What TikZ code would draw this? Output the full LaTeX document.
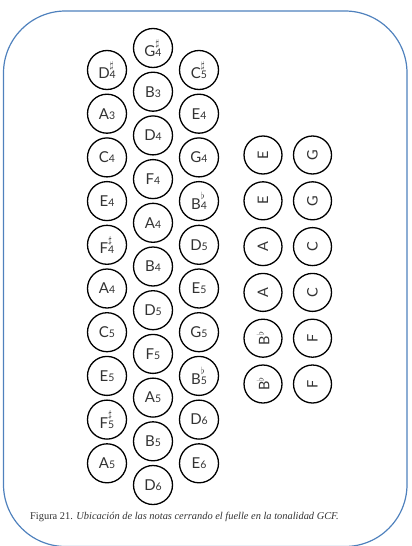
\documentclass[tikz,border=0pt]{standalone}
\usepackage{graphicx}
\usepackage{fontspec}
\setmainfont{Liberation Serif}
\newfontfamily\keyfont{Lato}
\usepackage{tikz}
\usetikzlibrary{positioning}
\definecolor{frameblue}{HTML}{4F81BD}
\definecolor{inkgray}{HTML}{333333}

% nota: letra, alteracion (sobre el numero), octava
\newcommand{\nota}[3]{#1\makebox[0pt][l]{\raisebox{1.35ex}{\fontsize{10}{10}\selectfont$#2$}}{\fontsize{10.5}{10.5}\selectfont #3}}
\newcommand{\bajo}[1]{\rotatebox{90}{#1}}

\begin{document}
\begin{tikzpicture}[
    x=1pt, y=-1pt,
    keyTreble/.style={circle, draw=black, line width=1.3pt, minimum size=39pt, inner sep=0pt, font=\keyfont\fontsize{15}{15}\selectfont, text=inkgray},
    keyBass/.style={circle, draw=black, line width=1.3pt, minimum size=38pt, inner sep=0pt, font=\keyfont\fontsize{14.5}{14.5}\selectfont, text=inkgray},
    colTreble/.style={on grid, below=43.7pt of #1},
    colBass/.style={on grid, below=45.8pt of #1}
]
    \useasboundingbox (0,0) rectangle (412,546);
    \draw[frameblue, line width=1.2pt, rounded corners=62pt] (3.5,11) rectangle (407,546.5);

    % Hilera izquierda
    \node[keyTreble] (l1) at (107,70) {\nota{D}{\sharp}{4}};
    \node[keyTreble, colTreble=l1] (l2) {\nota{A}{}{3}};
    \node[keyTreble, colTreble=l2] (l3) {\nota{C}{}{4}};
    \node[keyTreble, colTreble=l3] (l4) {\nota{E}{}{4}};
    \node[keyTreble, colTreble=l4] (l5) {\nota{F}{\sharp}{4}};
    \node[keyTreble, colTreble=l5] (l6) {\nota{A}{}{4}};
    \node[keyTreble, colTreble=l6] (l7) {\nota{C}{}{5}};
    \node[keyTreble, colTreble=l7] (l8) {\nota{E}{}{5}};
    \node[keyTreble, colTreble=l8] (l9) {\nota{F}{\sharp}{5}};
    \node[keyTreble, colTreble=l9] (l10) {\nota{A}{}{5}};

    % Hilera central
    \node[keyTreble] (m1) at (153,48) {\nota{G}{\sharp}{4}};
    \node[keyTreble, colTreble=m1] (m2) {\nota{B}{}{3}};
    \node[keyTreble, colTreble=m2] (m3) {\nota{D}{}{4}};
    \node[keyTreble, colTreble=m3] (m4) {\nota{F}{}{4}};
    \node[keyTreble, colTreble=m4] (m5) {\nota{A}{}{4}};
    \node[keyTreble, colTreble=m5] (m6) {\nota{B}{}{4}};
    \node[keyTreble, colTreble=m6] (m7) {\nota{D}{}{5}};
    \node[keyTreble, colTreble=m7] (m8) {\nota{F}{}{5}};
    \node[keyTreble, colTreble=m8] (m9) {\nota{A}{}{5}};
    \node[keyTreble, colTreble=m9] (m10) {\nota{B}{}{5}};
    \node[keyTreble, colTreble=m10] (m11) {\nota{D}{}{6}};

    % Hilera derecha
    \node[keyTreble] (r1) at (199,70) {\nota{C}{\sharp}{5}};
    \node[keyTreble, colTreble=r1] (r2) {\nota{E}{}{4}};
    \node[keyTreble, colTreble=r2] (r3) {\nota{G}{}{4}};
    \node[keyTreble, colTreble=r3] (r4) {\nota{B}{\flat}{4}};
    \node[keyTreble, colTreble=r4] (r5) {\nota{D}{}{5}};
    \node[keyTreble, colTreble=r5] (r6) {\nota{E}{}{5}};
    \node[keyTreble, colTreble=r6] (r7) {\nota{G}{}{5}};
    \node[keyTreble, colTreble=r7] (r8) {\nota{B}{\flat}{5}};
    \node[keyTreble, colTreble=r8] (r9) {\nota{D}{}{6}};
    \node[keyTreble, colTreble=r9] (r10) {\nota{E}{}{6}};

    % Bajos
    \node[keyBass] (b1) at (263,155) {\bajo{E}};
    \node[keyBass, colBass=b1] (b2) {\bajo{E}};
    \node[keyBass, colBass=b2] (b3) {\bajo{A}};
    \node[keyBass, colBass=b3] (b4) {\bajo{A}};
    \node[keyBass, colBass=b4] (b5) {\bajo{B$^\flat$}};
    \node[keyBass, colBass=b5] (b6) {\bajo{B$^\flat$}};

    \node[keyBass] (c1) at (312.5,155) {\bajo{G}};
    \node[keyBass, colBass=c1] (c2) {\bajo{G}};
    \node[keyBass, colBass=c2] (c3) {\bajo{C}};
    \node[keyBass, colBass=c3] (c4) {\bajo{C}};
    \node[keyBass, colBass=c4] (c5) {\bajo{F}};
    \node[keyBass, colBass=c5] (c6) {\bajo{F}};

    \node[anchor=base west, inner sep=0pt, font=\fontsize{10.4}{12}\selectfont, text=inkgray] (cap) at (30,519)
        {Figura 21. \textit{Ubicación de las notas cerrando el fuelle en la tonalidad GCF.}};
\end{tikzpicture}
\end{document}
